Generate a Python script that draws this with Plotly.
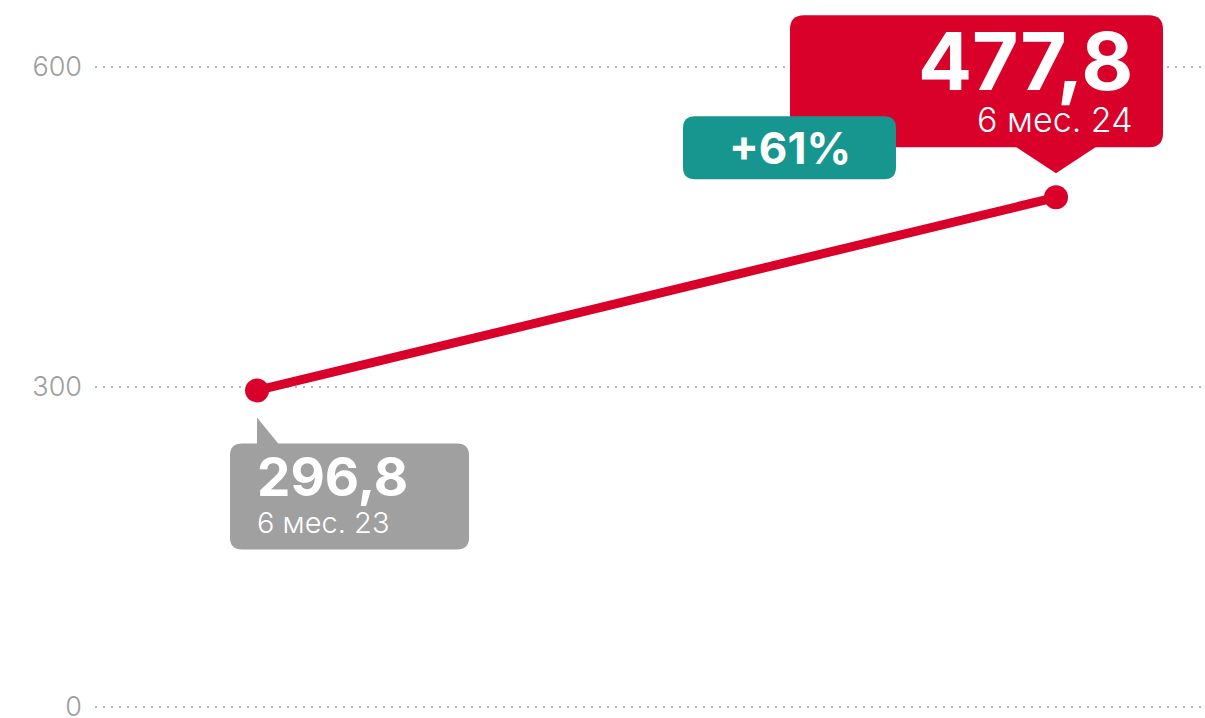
import plotly.graph_objects as go

periods = ["6 мес. 23", "6 мес. 24"]
values = [296.8, 477.8]
value_labels = ["296,8", "477,8"]
growth_label = "+61%"
y_ticks = [0, 300, 600]

RED = "#d9002a"
GRAY = "#a0a0a0"
TEAL = "#179690"

xs = [0, 1]

fig = go.Figure()
fig.add_trace(go.Scatter(
    x=xs, y=values, mode="lines+markers",
    line=dict(color=RED, width=9),
    marker=dict(color=RED, size=24),
    hoverinfo="skip", showlegend=False,
))


def rounded_box(x0, x1, y0, y1, r):
    # pixel path, y positive upward; y0 bottom, y1 top
    return (f"M{x0+r},{y1} L{x1-r},{y1} Q{x1},{y1} {x1},{y1-r} L{x1},{y0+r} Q{x1},{y0} {x1-r},{y0} "
            f"L{x0+r},{y0} Q{x0},{y0} {x0},{y0+r} L{x0},{y1-r} Q{x0},{y1} {x0+r},{y1} Z")


def pix_shape(xa, ya, path, color):
    return dict(type="path", xref="x", yref="y", xsizemode="pixel", ysizemode="pixel",
                xanchor=xa, yanchor=ya, path=path,
                fillcolor=color, line=dict(width=0), layer="above")


shapes = [
    pix_shape(xs[1], values[1], rounded_box(-266, 107, 50, 182, 14), RED),
    pix_shape(xs[1], values[1], "M-41,51 L0,24 L41,51 Z", RED),
    pix_shape(xs[1], values[1], rounded_box(-373, -160, 18, 81, 12), TEAL),
    pix_shape(xs[0], values[0], rounded_box(-27, 212, -159, -53, 12), GRAY),
    pix_shape(xs[0], values[0], "M0,-27 L0,-54 L22,-54 Z", GRAY),
]

FONT = "Inter"
annotations = [
    dict(x=xs[1], y=values[1], xref="x", yref="y", text=f"<b>{value_labels[1]}</b>",
         showarrow=False, xanchor="right", yanchor="middle", xshift=79, yshift=137,
         font=dict(family=FONT, size=80, color="white")),
    dict(x=xs[1], y=values[1], xref="x", yref="y", text=periods[1],
         showarrow=False, xanchor="right", yanchor="middle", xshift=79, yshift=78,
         font=dict(family=FONT, size=34, color="white", weight=300)),
    dict(x=xs[1], y=values[1], xref="x", yref="y", text=f"<b>{growth_label}</b>",
         showarrow=False, xanchor="center", yanchor="middle", xshift=-266, yshift=49,
         font=dict(family=FONT, size=44, color="white")),
    dict(x=xs[0], y=values[0], xref="x", yref="y", text=f"<b>{value_labels[0]}</b>",
         showarrow=False, xanchor="left", yanchor="middle", xshift=-2, yshift=-87,
         font=dict(family=FONT, size=53, color="white")),
    dict(x=xs[0], y=values[0], xref="x", yref="y", text=periods[0],
         showarrow=False, xanchor="left", yanchor="middle", xshift=-2, yshift=-132,
         font=dict(family=FONT, size=29, color="white", weight=300)),
]

fig.update_layout(
    width=1205, height=718,
    margin=dict(l=95, r=0, t=0, b=0, autoexpand=False),
    paper_bgcolor="white", plot_bgcolor="white",
    shapes=shapes, annotations=annotations,
    xaxis=dict(range=[-0.2028, 1.1865], visible=False, fixedrange=True, automargin=False),
    yaxis=dict(range=[-10.3, 662.8], tickvals=y_ticks, ticktext=[str(v) for v in y_ticks],
               showgrid=True, gridcolor="#b8b8b8", gridwidth=2, griddash="2px,6px",
               zeroline=False, showline=False, ticks="", ticklabelstandoff=12,
               ticklabeloverflow="allow", automargin=False,
               tickfont=dict(family=FONT, size=27, color="#9e9e9e", weight=300),
               fixedrange=True),
)

fig.write_html("out.html", config={"displayModeBar": False},
               post_script="document.body.style.margin='0';document.body.style.overflow='hidden';")
